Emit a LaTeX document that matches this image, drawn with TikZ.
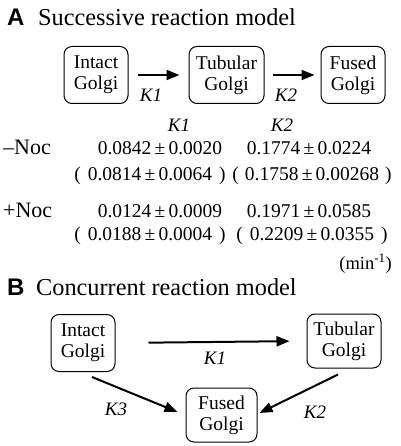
\documentclass[tikz,border=0pt]{standalone}
\usepackage{fontspec}
\setmainfont{Liberation Serif}
\newfontfamily\labelfont{Liberation Sans}
\usetikzlibrary{arrows.meta,calc}
\tikzset{
  golgibox/.style={draw, line width=1pt, rounded corners=8pt, align=center, inner sep=0pt,
    font=\fontsize{19.5}{21}\selectfont},
  rxn/.style={line width=2pt, -{Triangle[length=13pt,width=10pt]}},
  klabel/.style={font=\fontsize{19}{21}\selectfont\itshape, inner sep=0pt},
  num/.style={font=\fontsize{19.5}{21}\selectfont, inner sep=0pt, anchor=base},
  rowlabel/.style={font=\fontsize{22}{24}\selectfont, inner sep=0pt, anchor=base west},
  paneltitle/.style={font=\fontsize{24.3}{26}\selectfont, inner sep=0pt, anchor=base west},
  panelletter/.style={font=\labelfont\bfseries\fontsize{24}{26}\selectfont, inner sep=0pt, anchor=base west}
}
\begin{document}
\begin{tikzpicture}[x=1pt,y=-1pt]
\useasboundingbox (0,0) rectangle (400,446);
% Panel A
\node[panelletter] (la) at (7,26) {A};
\node[paneltitle] (ta) at (38,26) {Successive reaction model};
\node[golgibox, minimum width=64pt, minimum height=57pt] (ai) at (96,75) {Intact\\Golgi};
\node[golgibox, minimum width=75pt, minimum height=57pt] (at) at (226.5,75) {Tubular\\Golgi};
\node[golgibox, minimum width=64pt, minimum height=57pt] (af) at (353,75) {Fused\\Golgi};
\draw[rxn, shorten <=9pt, shorten >=9pt] (ai.east) -- (at.west);
\draw[rxn, shorten <=8pt, shorten >=6pt] (at.east) -- (af.west);
\node[klabel] (ak1) at (151,95) {K1};
\node[klabel] (ak2) at (286,95) {K2};
% Table
\node[klabel] (h1) at (179,125) {K1};
\node[klabel] (h2) at (282,125) {K2};
\node[rowlabel] (rm) at (3,155) {–Noc};
\node[rowlabel] (rp) at (3,217) {+Noc};
\node[num] (v11) at (160,155) {0.0842\,±\,0.0020};
\node[num] (v12) at (309,155) {0.1774\,±\,0.0224};
\node[num] (p11) at (150,181) {(\hspace{7pt}0.0814\,±\,0.0064\hspace{7pt})};
\node[num] (p12) at (312,181) {(\hspace{6pt}0.1758\,±\,0.00268\hspace{6pt})};
\node[num] (v21) at (160,217) {0.0124\,±\,0.0009};
\node[num] (v22) at (309,217) {0.1971\,±\,0.0585};
\node[num] (p21) at (150,240) {(\hspace{7pt}0.0188\,±\,0.0004\hspace{7pt})};
\node[num] (p22) at (312,240) {(\hspace{7pt}0.2209\,±\,0.0355\hspace{7pt})};
\node[num, anchor=base east, font=\fontsize{18.5}{20}\selectfont] (unit) at (392,269) {(min\textsuperscript{-1})};
% Panel B
\node[panelletter] (lb) at (7,295) {B};
\node[paneltitle] (tb) at (36,295) {Concurrent reaction model};
\node[golgibox, minimum width=64pt, minimum height=57pt] (bi) at (83,343) {Intact\\Golgi};
\node[golgibox, minimum width=74pt, minimum height=54pt] (bt) at (344,341) {Tubular\\Golgi};
\node[golgibox, minimum width=71pt, minimum height=54pt] (bf) at (221.5,415) {Fused\\Golgi};
\draw[rxn, shorten <=33pt, shorten >=17pt] (bi.east) -- (bt.west);
\draw[rxn] ($(bi.south)+(9,5)$) -- ($(bf.west)+(-8,-3)$);
\draw[rxn] ($(bt.south)+(-6,6)$) -- ($(bf.east)+(2,-2)$);
\node[klabel] (bk1) at (215,358) {K1};
\node[klabel] (bk3) at (116,409) {K3};
\node[klabel] (bk2) at (315,412) {K2};
\end{tikzpicture}
\end{document}
